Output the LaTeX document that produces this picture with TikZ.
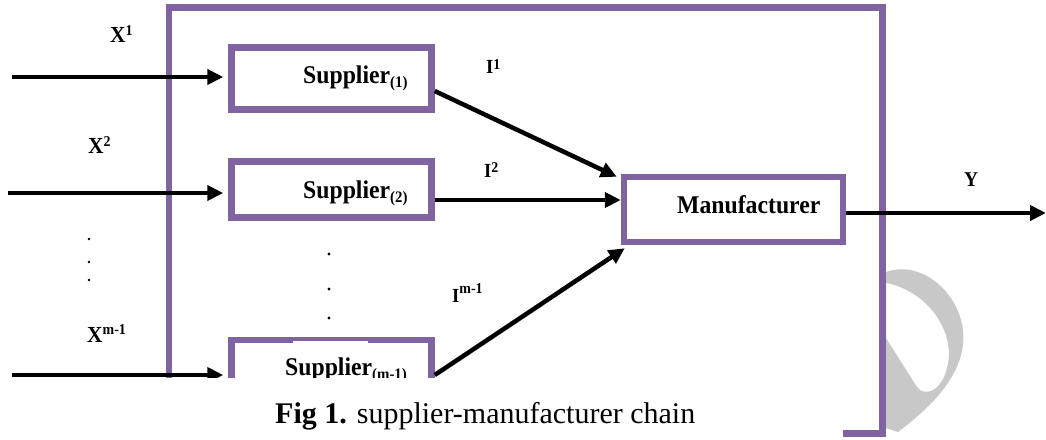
\documentclass[tikz,border=0pt]{standalone}
\usepackage{fontspec}
\setmainfont{Liberation Serif}
\newfontfamily\cond[FakeStretch=0.93]{Liberation Serif}
\usetikzlibrary{arrows.meta}
\definecolor{frm}{HTML}{8064A2}
\definecolor{wmk}{HTML}{C8C8C8}
\newcommand{\supx}[3][7pt]{#2\raisebox{#1}{\fontsize{15}{15}\selectfont #3}}
\newcommand{\subx}[2]{#1\raisebox{-4pt}{\fontsize{16}{16}\selectfont #2}}

\begin{document}
\begin{tikzpicture}[x=1pt, y=-1pt,
    box/.style={draw=frm, line width=6.5pt, minimum width=200pt, inner sep=0pt},
    txt/.style={anchor=base west, inner sep=0pt, font=\cond\fontsize{25.5}{25.5}\selectfont\bfseries},
    lbl/.style={anchor=base west, inner sep=0pt, font=\cond\fontsize{23}{23}\selectfont\bfseries},
    ilbl/.style={lbl, font=\cond\fontsize{20}{20}\selectfont\bfseries},
    arr/.style={line width=4.5pt, -{Triangle[length=16pt, width=15pt]}}]
      \useasboundingbox (0,0) rectangle (1046,439);
      \fill[wmk, even odd rule]
        (886,272) .. controls (925,258) and (968,300) .. (963,345)
          .. controls (958,385) and (920,415) .. (898,432) -- (886,428) -- cycle
        (886,283) .. controls (925,290) and (957,330) .. (947,368)
          .. controls (942,390) and (925,398) .. (917,387) -- (886,338) -- cycle;
      \draw[frm, line width=6.5pt] (169,7.5) rectangle (882.5,433.5);
      \node[box, minimum height=62pt] (s1) at (331.5,78.5) {};
      \node[box, minimum height=56pt] (s2) at (331.5,189.5) {};
      \node[box, minimum height=62pt] (sm) at (331.5,371) {};
      \node[box, minimum width=219pt, minimum height=65pt] (mf) at (733.5,209.5) {};
      \fill[white] (293,340.7) rectangle (368,344);
      \node[txt] (t1) at (303,83) {\subx{Supplier}{(1)}};
      \node[txt] (t2) at (303,198) {\subx{Supplier}{(2)}};
      \node[txt] (tm) at (285,375) {\subx{Supplier}{(m-1)}};
      \node[txt] (tf) at (677,213) {Manufacturer};
      \coordinate (x1) at (12,77);
      \coordinate (x2) at (8,193);
      \coordinate (xm) at (12,375);
      \foreach \i\j in {x1/s1, x2/s2, xm/sm} {
        \draw[arr, shorten >=5pt] (\i) -- (\i -| \j.west);
      }
      \coordinate (i2) at ([yshift=-10.5pt]s2.east);
      \draw[arr] ([yshift=-12.5pt]s1.east) -- ([xshift=-4pt, yshift=-3pt]mf.north west);
      \draw[arr] (i2) -- (i2 -| mf.west);
      \draw[arr] ([yshift=-4pt]sm.east) -- ([xshift=4pt, yshift=-3pt]mf.south west);
      \coordinate (yo) at (1046,213);
      \draw[arr] (mf.east |- yo) -- (yo);
      \foreach \y in {239, 262, 280} {
        \fill (89,\y) circle (1.3pt);
      }
      \foreach \y in {254, 289, 318} {
        \fill (329,\y) circle (1.7pt);
      }
      \node[lbl] (lx1) at (110,42) {\supx{X}{1}};
      \node[lbl] (lx2) at (88,153) {\supx{X}{2}};
      \node[lbl] (lxm) at (87,342) {\supx[8pt]{X}{m-1}};
      \node[ilbl] (li1) at (486,73) {\supx[4pt]{I}{1}};
      \node[ilbl] (li2) at (484,177) {\supx[5pt]{I}{2}};
      \node[ilbl] (lim) at (452,302) {\supx[9pt]{I}{m-1}};
      \node[lbl, font=\cond\fontsize{21}{21}\selectfont\bfseries] (ly) at (964,186) {Y};
      \fill[white] (0,378) rectangle (843,439);
      \node[anchor=base west, inner sep=0pt, font=\fontsize{30}{30}\selectfont] (cap) at (275,423)
        {\textbf{Fig 1.} supplier-manufacturer chain};
    \end{tikzpicture}
\end{document}
